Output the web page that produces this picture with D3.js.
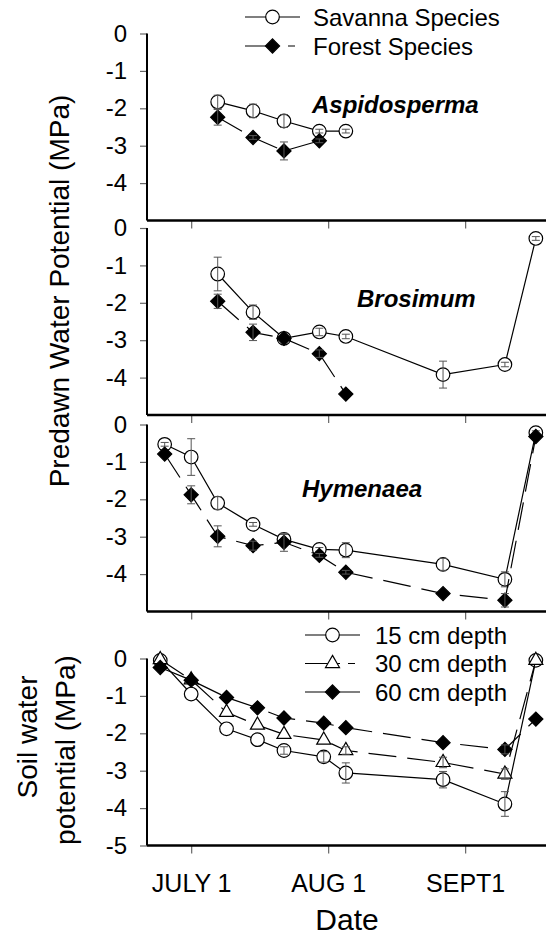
<!DOCTYPE html>
<html>
<head>
  <meta charset="utf-8">
  <title>Predawn and soil water potential</title>
  <script src="https://d3js.org/d3.v7.min.js"></script>
  <style>
    body { margin: 0; background: #fff; }
    text { font-family: "Liberation Sans", Arial, sans-serif; fill: #000; }
  </style>
</head>
<body>
  <svg width="546" height="938"></svg>
  <script>
    // days counted from July 1
    var tickDays = [0, 31, 62],
        tickLabels = ["JULY 1", "AUG 1", "SEPT1"],
        predawnTicks = [0, -1, -2, -3, -4],
        soilTicks = [0, -1, -2, -3, -4, -5];

    // Aspidosperma
    var aspSavDays = [6, 14, 21, 29, 35],
        aspSav = [-1.83, -2.07, -2.34, -2.61, -2.61],
        aspSavErr = [0.18, 0.18, 0.17, 0.05, 0.05],
        aspForDays = [6, 14, 21, 29],
        aspFor = [-2.24, -2.78, -3.14, -2.87],
        aspForErr = [0.21, 0.05, 0.24, 0.05];

    // Brosimum
    var broSavDays = [6, 14, 21, 29, 35, 57, 71, 78],
        broSav = [-1.23, -2.25, -2.95, -2.78, -2.90, -3.92, -3.65, -0.28],
        broSavErr = [0.45, 0.19, 0, 0.1, 0.06, 0.36, 0.06, 0.05],
        broForDays = [6, 14, 21, 29, 35],
        broFor = [-1.96, -2.79, -2.95, -3.36, -4.44],
        broForErr = [0.19, 0.22, 0, 0.1, 0];

    // Hymenaea
    var hymDays = [-6, 0, 6, 14, 21, 29, 35, 57, 71, 78],
        hymSav = [-0.53, -0.87, -2.10, -2.67, -3.07, -3.34, -3.36, -3.74, -4.14, -0.22],
        hymSavErr = [0.05, 0.49, 0.17, 0.05, 0.13, 0.05, 0.2, 0.16, 0.2, 0.05],
        hymFor = [-0.79, -1.88, -2.99, -3.24, -3.15, -3.50, -3.95, -4.52, -4.70, -0.32],
        hymForErr = [0, 0.24, 0.28, 0.12, 0.24, 0.05, 0.05, 0, 0.18, 0];

    // soil
    var soilDays = [-7, 0, 8, 15, 21, 30, 35, 57, 71, 78],
        soil15 = [-0.05, -0.95, -1.88, -2.17, -2.46, -2.63, -3.06, -3.24, -3.89, -0.05],
        soil15Err = [0, 0, 0, 0, 0.1, 0.14, 0.27, 0.22, 0.33, 0],
        soil30 = [-0.03, -0.57, -1.44, -1.78, -2.03, -2.18, -2.46, -2.78, -3.09, -0.05],
        soil30Err = [0, 0, 0, 0, 0, 0, 0.1, 0.14, 0.14, 0],
        soil60 = [-0.24, -0.58, -1.04, -1.32, -1.59, -1.73, -1.85, -2.25, -2.43, -1.62],
        soil60Err = [0, 0, 0, 0, 0, 0, 0, 0, 0.12, 0];

    var svg = d3.select("svg"),
        left = 147, right = 546, panelH = 187,
        dash = "28,11";

    var x = d3.scaleLinear().domain([-10, 80.3]).range([left, right]);

    function panel(top, ticks) {
      var y = d3.scaleLinear().domain([-5, 0]).range([top + panelH, top]);
      var g = svg.append("g");

      var ya = g.append("g").attr("transform", "translate(" + left + ",0)")
        .call(d3.axisLeft(y).tickValues(ticks).tickSize(7).tickFormat(function(d) { return String(d); }));
      var xa = g.append("g").attr("transform", "translate(0," + (top + panelH) + ")")
        .call(d3.axisBottom(x).tickValues(tickDays).tickSize(8).tickFormat(function(d, i) { return tickLabels[i]; }));

      [ya, xa].forEach(function(a) {
        a.select(".domain").remove();
        a.selectAll(".tick line").attr("stroke", "#666").attr("stroke-width", 1.2);
      });
      ya.selectAll(".tick text").attr("x", -20).attr("font-size", 24).attr("fill", "#000");
      xa.selectAll(".tick text").remove();

      g.append("line").attr("x1", left).attr("x2", left).attr("y1", y(0)).attr("y2", y(-5))
        .attr("stroke", "#000").attr("stroke-width", 2);
      g.append("line").attr("x1", left).attr("x2", right).attr("y1", y(-5)).attr("y2", y(-5))
        .attr("stroke", "#000").attr("stroke-width", 2.5);
      return { g: g, y: y, xa: xa };
    }

    function symbolPath(kind) {
      if (kind === "circle") return d3.symbol(d3.symbolCircle, 145)();
      if (kind === "triangle") return d3.symbol(d3.symbolTriangle, 85)();
      return d3.symbol(d3.symbolSquare, 100)();
    }

    function series(p, days, vals, errs, kind, dashed) {
      var pts = days.map(function(d, i) { return { day: d, v: vals[i], e: errs[i] }; });
      var line = d3.line().x(function(d) { return x(d.day); }).y(function(d) { return p.y(d.v); });
      p.g.append("path").datum(pts).attr("d", line).attr("fill", "none")
        .attr("stroke", "#000").attr("stroke-width", 1.2)
        .attr("stroke-dasharray", dashed ? dash : null);

      var fill = kind === "diamond" ? "#000" : "#fff";
      p.g.selectAll(null).data(pts).enter().append("path")
        .attr("d", symbolPath(kind))
        .attr("transform", function(d) {
          return "translate(" + x(d.day) + "," + p.y(d.v) + ")" + (kind === "diamond" ? " rotate(45)" : "");
        })
        .attr("fill", fill).attr("stroke", "#000").attr("stroke-width", 1.2);

      var eb = p.g.selectAll(null).data(pts.filter(function(d) { return d.e > 0; })).enter().append("g")
        .attr("stroke", "#555").attr("stroke-width", 1);
      eb.append("line").attr("x1", function(d) { return x(d.day); }).attr("x2", function(d) { return x(d.day); })
        .attr("y1", function(d) { return p.y(d.v + d.e); }).attr("y2", function(d) { return p.y(d.v - d.e); });
      [1, -1].forEach(function(s) {
        eb.append("line").attr("x1", function(d) { return x(d.day) - 4; }).attr("x2", function(d) { return x(d.day) + 4; })
          .attr("y1", function(d) { return p.y(d.v + s * d.e); }).attr("y2", function(d) { return p.y(d.v + s * d.e); });
      });
    }

    function label(g, px, py, txt, size, style) {
      var t = g.append("text").attr("x", px).attr("y", py).attr("font-size", size).text(txt);
      if (style) t.attr("font-weight", "bold").attr("font-style", "italic");
      return t;
    }

    function legendRow(g, x1, x2, cy, kind, dashes, txt, tx) {
      g.append("line").attr("x1", x1).attr("x2", x2).attr("y1", cy).attr("y2", cy)
        .attr("stroke", "#000").attr("stroke-width", 1.2).attr("stroke-dasharray", dashes);
      g.append("path").attr("d", symbolPath(kind))
        .attr("transform", "translate(" + ((x1 + x2) / 2) + "," + cy + ")" + (kind === "diamond" ? " rotate(45)" : ""))
        .attr("fill", kind === "diamond" ? "#000" : "#fff").attr("stroke", "#000").attr("stroke-width", 1.2);
      label(g, tx, cy + 8.5, txt, 24);
    }

    // panel 1
    var p1 = panel(33.5, predawnTicks);
    series(p1, aspSavDays, aspSav, aspSavErr, "circle", false);
    series(p1, aspForDays, aspFor, aspForErr, "diamond", true);
    label(p1.g, 312, 113, "Aspidosperma", 24, true);
    legendRow(svg, 245, 300, 17, "circle", null, "Savanna Species", 313);
    legendRow(svg, 245, 300, 46, "diamond", "33,10,7,100", "Forest Species", 313);

    // panel 2
    var p2 = panel(228, predawnTicks);
    series(p2, broSavDays, broSav, broSavErr, "circle", false);
    series(p2, broForDays, broFor, broForErr, "diamond", true);
    label(p2.g, 357, 307, "Brosimum", 24, true);

    // panel 3
    var p3 = panel(424.5, predawnTicks);
    series(p3, hymDays, hymSav, hymSavErr, "circle", false);
    series(p3, hymDays, hymFor, hymForErr, "diamond", true);
    label(p3.g, 302, 497, "Hymenaea", 24, true);

    // panel 4
    var p4 = panel(658.5, soilTicks);
    series(p4, soilDays, soil15, soil15Err, "circle", false);
    series(p4, soilDays, soil30, soil30Err, "triangle", true);
    series(p4, soilDays, soil60, soil60Err, "diamond", true);
    legendRow(svg, 305, 360, 635, "circle", null, "15 cm depth", 375);
    legendRow(svg, 305, 360, 663.5, "triangle", "35,8,7,100", "30 cm depth", 375);
    legendRow(svg, 305, 360, 692, "diamond", null, "60 cm depth", 375);

    p4.xa.selectAll(".tick").append("text")
      .attr("y", 892 - 845.5).attr("text-anchor", "middle").attr("font-size", 25).attr("fill", "#000")
      .text(function(d, i) { return tickLabels[i]; });

    svg.append("text").attr("x", 347).attr("y", 930).attr("text-anchor", "middle")
      .attr("font-size", 30).text("Date");

    svg.append("text").attr("transform", "translate(69,291) rotate(-90)").attr("text-anchor", "middle")
      .attr("font-size", 28).text("Predawn Water Potential (MPa)");
    svg.append("text").attr("transform", "translate(37,737) rotate(-90)").attr("text-anchor", "middle")
      .attr("font-size", 28).text("Soil water");
    svg.append("text").attr("transform", "translate(75,750) rotate(-90)").attr("text-anchor", "middle")
      .attr("font-size", 28).text("potential (MPa)");
  </script>
</body>
</html>
